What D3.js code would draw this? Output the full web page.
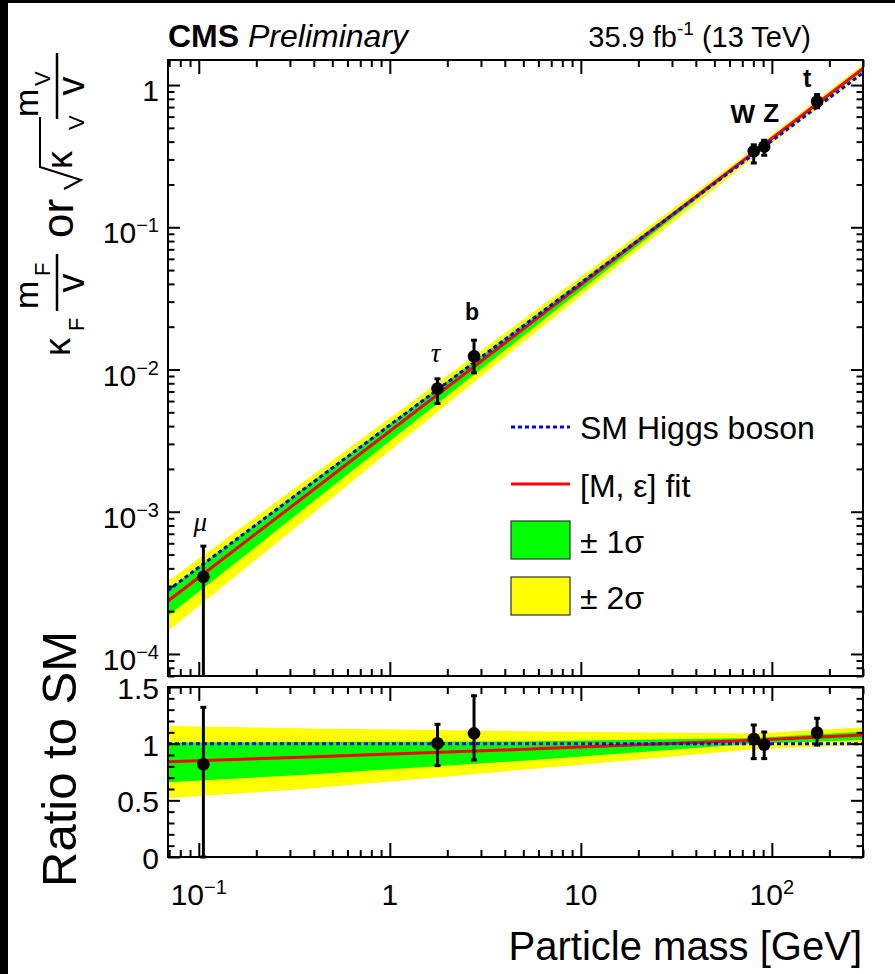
<!DOCTYPE html>
<html>
<head>
<meta charset="utf-8">
<title>Couplings vs particle mass</title>
<script src="https://d3js.org/d3.v7.min.js"></script>
<style>
body { margin: 0; background: #fff; }
text { font-family: "Liberation Sans", Arial, Helvetica, sans-serif; fill: #000; }
</style>
</head>
<body>
<script>

// ---- data ----
var names     = ["μ", "τ", "b", "W", "Z", "t"];
var mass      = [0.1057, 1.777, 2.76, 80.4, 91.2, 172.5];

// top panel: kappa * m / v
var yTop      = [3.49e-4, 7.36e-3, 1.24e-2, 0.342, 0.369, 0.767];
var yTopLo    = [1e-6,    5.77e-3, 9.47e-3, 0.283, 0.321, 0.692];
var yTopHi    = [5.73e-4, 8.6e-3,  1.607e-2, 0.380, 0.409, 0.857];

// bottom panel: ratio to SM
var ratio     = [0.818, 1.003, 1.091, 1.041, 0.991, 1.097];
var ratioLo   = [0.0,   0.806, 0.856, 0.868, 0.868, 0.988];
var ratioHi   = [1.321, 1.171, 1.423, 1.165, 1.103, 1.224];

// SM line (two ends of the straight line)
var smMass    = [0.069, 300];
var smTop     = [2.80e-4, 1.218];
var smRatio   = [1, 1];

// fit and bands sampled along the mass axis
var bandMass  = [0.069, 0.34, 5, 80, 300];
var top2hi    = [3.24e-4, 1.567e-3, 2.254e-2, 0.3541, 1.393];
var top1hi    = [2.83e-4, 1.402e-3, 2.072e-2, 0.3411, 1.347];
var topFit    = [2.357e-4, 1.215e-3, 1.929e-2, 0.3346, 1.311];
var top1lo    = [1.846e-4, 1.000e-3, 1.726e-2, 0.3249, 1.257];
var top2lo    = [1.451e-4, 8.245e-4, 1.564e-2, 0.3087, 1.203];

var rat2hi    = [1.156, 1.135, 1.11, 1.09, 1.144];
var rat1hi    = [1.01,  1.015, 1.02, 1.05, 1.106];
var ratFit    = [0.841, 0.88,  0.95, 1.03, 1.076];
var rat1lo    = [0.659, 0.724, 0.85, 1.0,  1.032];
var rat2lo    = [0.518, 0.597, 0.77, 0.95, 0.988];

// axes
var xRange     = [0.069, 300];
var yRange     = [7e-5, 1.5];
var ratioRange = [0, 1.5];
var xMajor     = [0.1, 1, 10, 100];
var xLabelBase = ["10", "1", "10", "10"];
var xLabelExp  = ["\u22121", "", "", "2"];
var yMajor     = [1e-4, 1e-3, 1e-2, 1e-1, 1];
var yLabelBase = ["10", "10", "10", "10", "1"];
var yLabelExp  = ["\u22124", "\u22123", "\u22122", "\u22121", ""];
var rMajor     = [0, 0.5, 1, 1.5];
var rLabels    = ["0", "0.5", "1", "1.5"];

// legend
var legendLabels = ["SM Higgs boson", "[M, \u03b5] fit", "\u00b1 1\u03c3", "\u00b1 2\u03c3"];

// ---- layout ----
var W = 895, H = 974;
var left = 168, right = 863;
var top1 = 60, bot1 = 676, top2 = 687, bot2 = 857;

var svg = d3.select("body").append("svg")
    .attr("width", W)
    .attr("height", H);

svg.append("rect").attr("width", W).attr("height", H).attr("fill", "#fff");
// black strip on the left and top edges of the scan
svg.append("rect").attr("width", 8).attr("height", H).attr("fill", "#000");
svg.append("rect").attr("width", W).attr("height", 3).attr("fill", "#000");

var x  = d3.scaleLog().domain(xRange).range([left, right]);
var y  = d3.scaleLog().domain(yRange).range([bot1, top1]);
var yr = d3.scaleLinear().domain(ratioRange).range([bot2, top2]);

// minor tick positions
function logMinor(lo, hi) {
    var out = [];
    for (var e = -6; e <= 3; e++) {
        for (var k = 2; k <= 9; k++) {
            var v = k * Math.pow(10, e);
            if (v >= lo * 0.999 && v <= hi * 1.001) out.push(v);
        }
    }
    return out;
}
var xMinor = logMinor(xRange[0], xRange[1]);
var yMinor = logMinor(yRange[0], yRange[1]);
var rMinor = d3.range(1, 15).map(function (i) { return i / 10; })
    .filter(function (v) { return rMajor.indexOf(v) < 0; });

var defs = svg.append("defs");
defs.append("clipPath").attr("id", "clipTop").append("rect")
    .attr("x", left).attr("y", top1).attr("width", right - left).attr("height", bot1 - top1);
defs.append("clipPath").attr("id", "clipBot").append("rect")
    .attr("x", left).attr("y", top2).attr("width", right - left).attr("height", bot2 - top2);

var bandTop = bandMass.map(function (m, i) {
    return { m: m, lo2: top2lo[i], lo1: top1lo[i], fit: topFit[i], hi1: top1hi[i], hi2: top2hi[i] };
});
var bandBot = bandMass.map(function (m, i) {
    return { m: m, lo2: rat2lo[i], lo1: rat1lo[i], fit: ratFit[i], hi1: rat1hi[i], hi2: rat2hi[i] };
});

var yellow = "#ffff00", green = "#00ff00", red = "#ff0000", blue = "#0000ff";

function drawPanel(clipId, ys, band, smVals) {
    var g = svg.append("g").attr("clip-path", "url(#" + clipId + ")");
    var area2 = d3.area().x(function (d) { return x(d.m); })
        .y0(function (d) { return ys(d.lo2); }).y1(function (d) { return ys(d.hi2); });
    var area1 = d3.area().x(function (d) { return x(d.m); })
        .y0(function (d) { return ys(d.lo1); }).y1(function (d) { return ys(d.hi1); });
    g.append("path").datum(band).attr("d", area2).attr("fill", yellow);
    g.append("path").datum(band).attr("d", area1).attr("fill", green);

    var fitLine = d3.line().x(function (d) { return x(d.m); }).y(function (d) { return ys(d.fit); });
    g.append("path").datum(band).attr("d", fitLine)
        .attr("fill", "none").attr("stroke", red).attr("stroke-width", 3);

    var sm = smMass.map(function (m, i) { return { m: m, v: smVals[i] }; });
    var smLine = d3.line().x(function (d) { return x(d.m); }).y(function (d) { return ys(d.v); });
    g.append("path").datum(sm).attr("d", smLine)
        .attr("fill", "none").attr("stroke", blue).attr("stroke-width", 3)
        .attr("stroke-dasharray", "4 3");
    return g;
}

drawPanel("clipTop", y, bandTop, smTop);
drawPanel("clipBot", yr, bandBot, smRatio);

// data points with error bars
function drawPoints(g, ys, vals, lo, hi) {
    var pts = mass.map(function (m, i) { return { m: m, v: vals[i], lo: lo[i], hi: hi[i] }; });
    var sel = g.selectAll("g.pt").data(pts).enter().append("g").attr("class", "pt");
    sel.append("line")
        .attr("x1", function (d) { return x(d.m); }).attr("x2", function (d) { return x(d.m); })
        .attr("y1", function (d) { return ys(d.lo); }).attr("y2", function (d) { return ys(d.hi); })
        .attr("stroke", "#000").attr("stroke-width", 3);
    ["lo", "hi"].forEach(function (k) {
        sel.append("line")
            .attr("x1", function (d) { return x(d.m) - 3; }).attr("x2", function (d) { return x(d.m) + 3; })
            .attr("y1", function (d) { return ys(d[k]); }).attr("y2", function (d) { return ys(d[k]); })
            .attr("stroke", "#000").attr("stroke-width", 3);
    });
    sel.append("circle")
        .attr("cx", function (d) { return x(d.m); })
        .attr("cy", function (d) { return ys(d.v); })
        .attr("r", 6.3).attr("fill", "#000");
}

drawPoints(svg.append("g").attr("clip-path", "url(#clipTop)"), y, yTop, yTopLo, yTopHi);
drawPoints(svg.append("g"), yr, ratio, ratioLo, ratioHi);

// particle names above the points
var labelOff = [[-3, -55], [-2, -35], [-2, -44], [-11, -37], [7, -34], [-10, -23]];
var labelStyle = [
    { family: "Liberation Serif", style: "italic", weight: "normal", size: 27 },
    { family: "Liberation Serif", style: "italic", weight: "normal", size: 27 },
    { family: "Liberation Sans", style: "normal", weight: "bold", size: 23 },
    { family: "Liberation Sans", style: "normal", weight: "bold", size: 26 },
    { family: "Liberation Sans", style: "normal", weight: "bold", size: 26 },
    { family: "Liberation Sans", style: "normal", weight: "bold", size: 25 }
];
names.forEach(function (n, i) {
    var s = labelStyle[i];
    svg.append("text")
        .attr("x", x(mass[i]) + labelOff[i][0])
        .attr("y", y(yTop[i]) + labelOff[i][1])
        .attr("text-anchor", "middle")
        .attr("dominant-baseline", "central")
        .style("font-family", s.family)
        .style("font-style", s.style)
        .style("font-weight", s.weight)
        .style("font-size", s.size + "px")
        .text(n);
});

// frames and ticks (ticks inward on all four sides)
function ticks(axisGen, tx, ty, vals, len) {
    var g = svg.append("g").attr("transform", "translate(" + tx + "," + ty + ")")
        .call(axisGen.tickValues(vals).tickSize(-len).tickFormat(""));
    g.select(".domain").remove();
    g.selectAll(".tick line").attr("stroke-width", 2);
}

function frame(ys, yt, yb, yMaj, yMin) {
    ticks(d3.axisBottom(x), 0, yb, xMajor, 14);
    ticks(d3.axisBottom(x), 0, yb, xMinor, 7);
    ticks(d3.axisTop(x), 0, yt, xMajor, 14);
    ticks(d3.axisTop(x), 0, yt, xMinor, 7);
    ticks(d3.axisLeft(ys), left, 0, yMaj, 12);
    ticks(d3.axisLeft(ys), left, 0, yMin, 6.5);
    ticks(d3.axisRight(ys), right, 0, yMaj, 12);
    ticks(d3.axisRight(ys), right, 0, yMin, 6.5);
    svg.append("rect")
        .attr("x", left).attr("y", yt)
        .attr("width", right - left).attr("height", yb - yt)
        .attr("fill", "none").attr("stroke", "#000").attr("stroke-width", 2);
}

frame(y, top1, bot1, yMajor, yMinor);
frame(yr, top2, bot2, rMajor, rMinor);

// tick labels
function powLabel(t, base, exp, supSize, supDy) {
    t.append("tspan").text(base);
    if (exp) t.append("tspan").attr("dy", supDy).style("font-size", supSize + "px").text(exp);
}

yMajor.forEach(function (v, i) {
    var t = svg.append("text")
        .attr("x", 159).attr("y", y(v) + 16)
        .attr("text-anchor", "end")
        .style("font-size", "30px");
    powLabel(t, yLabelBase[i], yLabelExp[i], 20, -11);
});

rMajor.forEach(function (v, i) {
    svg.append("text")
        .attr("x", 159).attr("y", yr(v) + 12)
        .attr("text-anchor", "end")
        .style("font-size", "30px")
        .text(rLabels[i]);
});

xMajor.forEach(function (v, i) {
    var t = svg.append("text")
        .attr("x", x(v)).attr("y", 905)
        .attr("text-anchor", "middle")
        .style("font-size", "30px");
    powLabel(t, xLabelBase[i], xLabelExp[i], 20, -11);
});

// axis titles
svg.append("text")
    .attr("x", 862).attr("y", 960)
    .attr("text-anchor", "end")
    .style("font-size", "40px")
    .text("Particle mass [GeV]");

svg.append("text")
    .attr("transform", "translate(76,759) rotate(-90)")
    .attr("text-anchor", "middle")
    .style("font-size", "49px")
    .text("Ratio to SM");

// rotated top-panel title built from pieces: (baseline x, start y on screen)
function rot(str, size, bx, sy, anchor, weight) {
    svg.append("text")
        .attr("transform", "translate(" + bx + "," + sy + ") rotate(-90)")
        .attr("text-anchor", anchor || "start")
        .style("font-size", size + "px")
        .style("font-weight", weight || "normal")
        .text(str);
}
rot("\u03ba", 36, 70, 356);
rot("F", 22, 84, 331);
rot("m", 34, 38, 309);
rot("F", 22, 50, 276);
rot("v", 38, 84, 283, "middle");
svg.append("line").attr("x1", 57).attr("x2", 57).attr("y1", 311).attr("y2", 254)
    .attr("stroke", "#000").attr("stroke-width", 2.5);
rot("or", 44, 73, 238);
svg.append("path").attr("d", "M64,189 L81,180 L40,167 L40,117")
    .attr("fill", "none").attr("stroke", "#000").attr("stroke-width", 2);
rot("\u03ba", 36, 72, 169);
rot("V", 22, 84, 130);
rot("m", 34, 38, 117);
rot("V", 22, 50, 86);
rot("v", 38, 84, 86, "middle");
svg.append("line").attr("x1", 57).attr("x2", 57).attr("y1", 119).attr("y2", 53)
    .attr("stroke", "#000").attr("stroke-width", 2.5);

// header
var head = svg.append("text").attr("x", 168).attr("y", 47).style("font-size", "32px");
head.append("tspan").style("font-weight", "bold").text("CMS");
head.append("tspan").style("font-style", "italic").text(" Preliminary");

var lumi = svg.append("text").attr("x", 811).attr("y", 47)
    .attr("text-anchor", "end").style("font-size", "29px");
lumi.append("tspan").text("35.9 fb");
lumi.append("tspan").attr("dy", -12).style("font-size", "19px").text("-1");
lumi.append("tspan").attr("dy", 12).text(" (13 TeV)");

// legend
var legY = [427, 484, 540, 596];
var legBase = [439, 497, 553, 609];
var leg = svg.append("g");
leg.append("line").attr("x1", 511).attr("x2", 570).attr("y1", legY[0]).attr("y2", legY[0])
    .attr("stroke", blue).attr("stroke-width", 3).attr("stroke-dasharray", "4 3");
leg.append("line").attr("x1", 511).attr("x2", 570).attr("y1", legY[1]).attr("y2", legY[1])
    .attr("stroke", red).attr("stroke-width", 3);
[green, yellow].forEach(function (c, i) {
    leg.append("rect").attr("x", 511).attr("y", legY[i + 2] - 19)
        .attr("width", 59).attr("height", 38)
        .attr("fill", c).attr("stroke", "#333").attr("stroke-width", 1.2);
});
legendLabels.forEach(function (s, i) {
    leg.append("text").attr("x", 580).attr("y", legBase[i])
        .style("font-size", "32px").text(s);
});

</script>
</body>
</html>
